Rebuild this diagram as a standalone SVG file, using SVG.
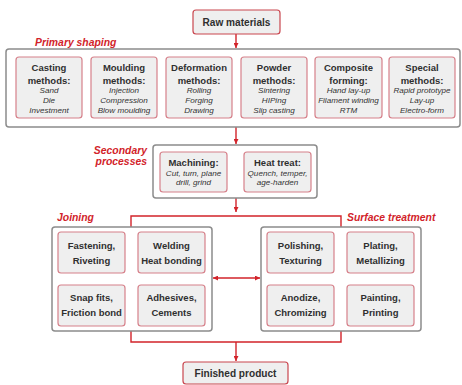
<svg xmlns="http://www.w3.org/2000/svg" width="462" height="385" viewBox="0 0 462 385">
  <defs>
    <marker id="arrow" viewBox="0 0 10 10" refX="10" refY="5" markerWidth="5" markerHeight="5" orient="auto-start-reverse" markerUnits="userSpaceOnUse">
      <path d="M0,0 L10,5 L0,10 z" fill="#d2232a"/>
    </marker>
    <style>
      .group { fill: #ffffff; stroke: #8c8c8c; stroke-width: 1.5; }
      .box { fill: #efefef; stroke: #d6808a; stroke-width: 1.2; }
      .endbox { fill: #efefef; stroke: #c9464f; stroke-width: 1.2; }
      .title { font-family: "Liberation Sans", Arial, sans-serif; font-weight: bold; font-size: 9.5px; fill: #2f2f2f; text-anchor: middle; }
      .item { font-family: "Liberation Sans", Arial, sans-serif; font-style: italic; font-size: 8.1px; fill: #333333; text-anchor: middle; }
      .label { font-family: "Liberation Sans", Arial, sans-serif; font-weight: bold; font-style: italic; font-size: 10.4px; fill: #d2232a; }
      .big { font-size: 10.1px; }
      .wire { fill: none; stroke: #d2232a; stroke-width: 1.4; }
    </style>
  </defs>

  <!-- connectors -->
  <g id="connectors">
    <path class="wire" d="M236,34 V48" marker-end="url(#arrow)"/>
    <path class="wire" d="M236,127 V144" marker-end="url(#arrow)"/>
    <path class="wire" d="M236,198 V212" marker-end="url(#arrow)"/>
    <path class="wire" d="M131,227 V216 H341 V227"/>
    <path class="wire" d="M131,331 V342 H341 V331"/>
    <path class="wire" d="M236,342 V361" marker-end="url(#arrow)"/>
    <path class="wire" d="M213,278 H260" marker-start="url(#arrow)" marker-end="url(#arrow)"/>
  </g>

  <!-- start -->
  <g id="raw-materials">
    <rect class="endbox" x="193" y="10" width="87" height="24" rx="3"/>
    <text class="title big" x="236.5" y="26">Raw materials</text>
  </g>

  <!-- primary shaping -->
  <g id="primary-shaping">
    <text class="label" x="35" y="45.5">Primary shaping</text>
    <rect class="group" x="6" y="49" width="454" height="78" rx="3"/>
  </g>
  <g id="casting">
    <rect class="box" x="16" y="57" width="66" height="61" rx="3"/>
    <text class="title" x="49" y="71">Casting</text>
    <text class="title" x="49" y="83.5">methods:</text>
    <text class="item" x="49" y="92.5">Sand</text>
    <text class="item" x="49" y="102.5">Die</text>
    <text class="item" x="49" y="112.5">Investment</text>
  </g>
  <g id="moulding">
    <rect class="box" x="91" y="57" width="66" height="61" rx="3"/>
    <text class="title" x="124" y="71">Moulding</text>
    <text class="title" x="124" y="83.5">methods:</text>
    <text class="item" x="124" y="92.5">Injection</text>
    <text class="item" x="124" y="102.5">Compression</text>
    <text class="item" x="124" y="112.5">Blow moulding</text>
  </g>
  <g id="deformation">
    <rect class="box" x="166" y="57" width="66" height="61" rx="3"/>
    <text class="title" x="199" y="71">Deformation</text>
    <text class="title" x="199" y="83.5">methods:</text>
    <text class="item" x="199" y="92.5">Rolling</text>
    <text class="item" x="199" y="102.5">Forging</text>
    <text class="item" x="199" y="112.5">Drawing</text>
  </g>
  <g id="powder">
    <rect class="box" x="241" y="57" width="66" height="61" rx="3"/>
    <text class="title" x="274" y="71">Powder</text>
    <text class="title" x="274" y="83.5">methods:</text>
    <text class="item" x="274" y="92.5">Sintering</text>
    <text class="item" x="274" y="102.5">HIPing</text>
    <text class="item" x="274" y="112.5">Slip casting</text>
  </g>
  <g id="composite">
    <rect class="box" x="315" y="57" width="67" height="61" rx="3"/>
    <text class="title" x="348.5" y="71">Composite</text>
    <text class="title" x="348.5" y="83.5">forming:</text>
    <text class="item" x="348.5" y="92.5">Hand lay-up</text>
    <text class="item" x="348.5" y="102.5">Filament winding</text>
    <text class="item" x="348.5" y="112.5">RTM</text>
  </g>
  <g id="special">
    <rect class="box" x="389" y="57" width="66" height="61" rx="3"/>
    <text class="title" x="422" y="71">Special</text>
    <text class="title" x="422" y="83.5">methods:</text>
    <text class="item" x="422" y="92.5">Rapid prototype</text>
    <text class="item" x="422" y="102.5">Lay-up</text>
    <text class="item" x="422" y="112.5">Electro-form</text>
  </g>

  <!-- secondary processes -->
  <g id="secondary-processes">
    <text class="label" x="147" y="154" text-anchor="end">Secondary</text>
    <text class="label" x="147" y="165" text-anchor="end">processes</text>
    <rect class="group" x="153" y="145" width="164" height="53" rx="3"/>
  </g>
  <g id="machining">
    <rect class="box" x="160" y="152" width="67" height="40" rx="3"/>
    <text class="title" x="193.5" y="166">Machining:</text>
    <text class="item" x="193.5" y="175.5">Cut, turn, plane</text>
    <text class="item" x="193.5" y="185">drill, grind</text>
  </g>
  <g id="heat-treat">
    <rect class="box" x="244" y="152" width="67" height="40" rx="3"/>
    <text class="title" x="277.5" y="166">Heat treat:</text>
    <text class="item" x="277.5" y="175.5">Quench, temper,</text>
    <text class="item" x="277.5" y="185">age-harden</text>
  </g>

  <!-- joining -->
  <g id="joining">
    <text class="label" x="57" y="221">Joining</text>
    <rect class="group" x="52" y="227" width="160" height="104" rx="3"/>
  </g>
  <g id="fastening">
    <rect class="box" x="58" y="232" width="67" height="41" rx="3"/>
    <text class="title" x="91.5" y="248.5">Fastening,</text>
    <text class="title" x="91.5" y="263.5">Riveting</text>
  </g>
  <g id="welding">
    <rect class="box" x="138" y="232" width="67" height="41" rx="3"/>
    <text class="title" x="171.5" y="248.5">Welding</text>
    <text class="title" x="171.5" y="263.5">Heat bonding</text>
  </g>
  <g id="snap-fits">
    <rect class="box" x="58" y="285" width="67" height="41" rx="3"/>
    <text class="title" x="91.5" y="300.5">Snap fits,</text>
    <text class="title" x="91.5" y="315.5">Friction bond</text>
  </g>
  <g id="adhesives">
    <rect class="box" x="138" y="285" width="67" height="41" rx="3"/>
    <text class="title" x="171.5" y="300.5">Adhesives,</text>
    <text class="title" x="171.5" y="315.5">Cements</text>
  </g>

  <!-- surface treatment -->
  <g id="surface-treatment">
    <text class="label" x="347" y="221">Surface treatment</text>
    <rect class="group" x="261" y="227" width="160" height="104" rx="3"/>
  </g>
  <g id="polishing">
    <rect class="box" x="267" y="232" width="67" height="41" rx="3"/>
    <text class="title" x="300.5" y="248.5">Polishing,</text>
    <text class="title" x="300.5" y="263.5">Texturing</text>
  </g>
  <g id="plating">
    <rect class="box" x="347" y="232" width="67" height="41" rx="3"/>
    <text class="title" x="380.5" y="248.5">Plating,</text>
    <text class="title" x="380.5" y="263.5">Metallizing</text>
  </g>
  <g id="anodize">
    <rect class="box" x="267" y="285" width="67" height="41" rx="3"/>
    <text class="title" x="300.5" y="300.5">Anodize,</text>
    <text class="title" x="300.5" y="315.5">Chromizing</text>
  </g>
  <g id="painting">
    <rect class="box" x="347" y="285" width="67" height="41" rx="3"/>
    <text class="title" x="380.5" y="300.5">Painting,</text>
    <text class="title" x="380.5" y="315.5">Printing</text>
  </g>

  <!-- end -->
  <g id="finished-product">
    <rect class="endbox" x="183" y="362" width="105" height="22" rx="3"/>
    <text class="title big" x="235.5" y="376.5">Finished product</text>
  </g>
</svg>
